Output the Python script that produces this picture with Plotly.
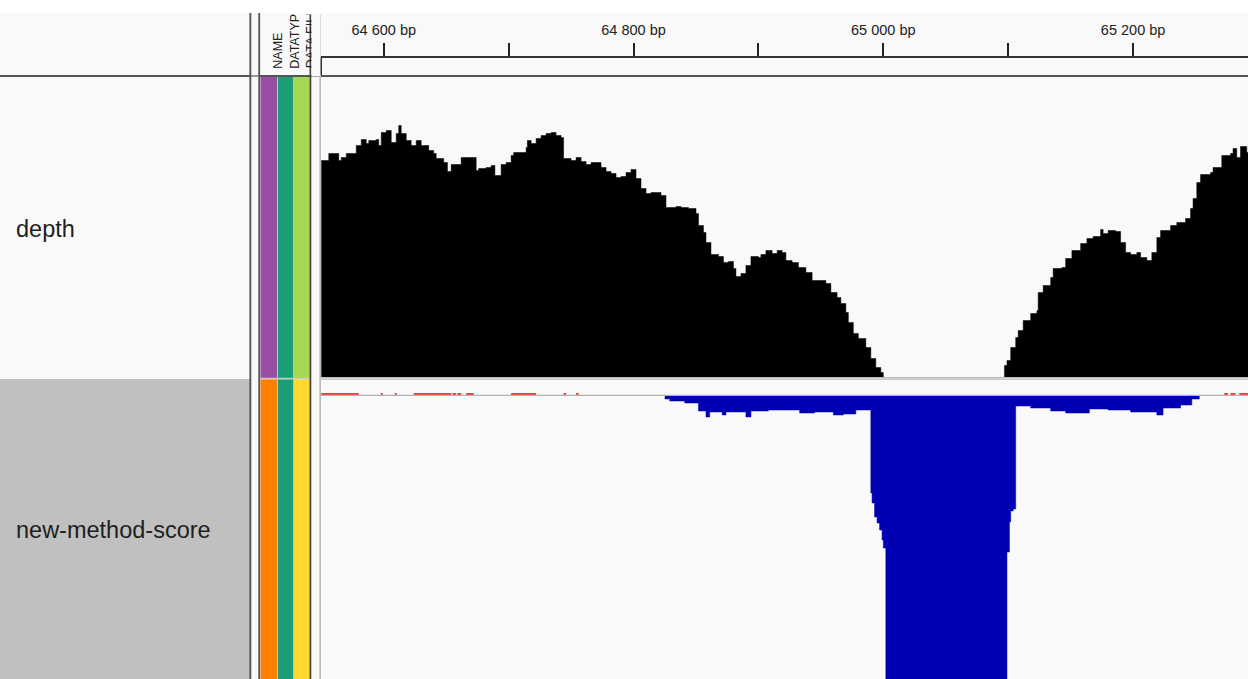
import plotly.graph_objects as go

# ---- data -------------------------------------------------------------
# read depth as a step profile: start position (bp) and depth value
depth_pos = [
    64550, 64556, 64564, 64566, 64570, 64578, 64582, 64586, 64588, 64594,
    64596, 64598, 64602, 64606, 64610, 64612, 64614, 64618, 64622, 64626,
    64630, 64636, 64640, 64642, 64648, 64651, 64654, 64662, 64674, 64676,
    64682, 64686, 64689, 64694, 64698, 64702, 64704, 64714, 64715, 64718,
    64722, 64726, 64730, 64734, 64738, 64742, 64744, 64750, 64754, 64758,
    64762, 64766, 64774, 64778, 64782, 64786, 64790, 64794, 64798, 64802,
    64806, 64810, 64814, 64822, 64826, 64834, 64838, 64844, 64850, 64852,
    64856, 64858, 64862, 64868, 64872, 64876, 64880, 64882, 64886, 64890,
    64894, 64900, 64902, 64906, 64911, 64915, 64919, 64922, 64927, 64932,
    64938, 64943, 64954, 64958, 64963, 64966, 64970, 64972, 64976, 64980,
    64986, 64990, 64994, 64998, 65000, 65097, 65099, 65102, 65106, 65108,
    65112, 65118, 65123, 65124, 65128, 65134, 65136, 65143, 65146, 65151,
    65158, 65163, 65168, 65174, 65176, 65180, 65186, 65190, 65194, 65198,
    65203, 65206, 65211, 65215, 65219, 65222, 65230, 65235, 65242, 65246,
    65248, 65251, 65254, 65262, 65264, 65271, 65278, 65280, 65283, 65286,
    65291, 65293,
]
depth_val = [
    217, 224, 217, 220, 224, 232, 238, 234, 237, 238,
    232, 245, 247, 235, 244, 252, 244, 237, 232, 237,
    232, 227, 224, 219, 215, 206, 213, 220, 207, 209,
    210, 212, 202, 213, 215, 222, 225, 230, 237, 234,
    239, 242, 244, 245, 242, 240, 219, 217, 220, 216,
    213, 215, 210, 206, 204, 200, 201, 205, 208, 199,
    189, 184, 185, 182, 170, 171, 170, 169, 164, 152,
    145, 135, 123, 121, 115, 116, 109, 101, 104, 112,
    121, 120, 123, 127, 124, 127, 125, 117, 115, 110,
    105, 97, 94, 85, 80, 74, 65, 55, 44, 39,
    30, 19, 10, 5, 0, 12, 17, 30, 40, 47,
    57, 64, 67, 85, 92, 100, 109, 110, 119, 127,
    134, 139, 141, 148, 144, 147, 146, 135, 125, 123,
    125, 120, 117, 125, 140, 147, 152, 155, 159, 169,
    179, 195, 203, 205, 210, 222, 224, 229, 220, 231,
    225, 225,
]

# new-method-score, negative stretch (step profile, start positions)
score_neg_pos = [
    64825, 64829, 64841, 64852, 64858, 64861, 64871, 64874, 64890, 64894,
    64908, 64933, 64945, 64960, 64968, 64978, 64990, 64991, 64993, 64995,
    64997, 64999, 65000, 65002, 65099, 65101, 65102, 65104, 65106, 65118,
    65134, 65146, 65165, 65180, 65198, 65219, 65224, 65238, 65247, 65253,
]
score_neg_val = [
    -0.4, -0.6, -0.8, -1.6, -2.2, -1.7, -2.0, -1.7, -2.2, -1.6,
    -1.5, -1.8, -1.7, -2.0, -1.9, -1.5, -9.8, -10.8, -12.2, -12.8,
    -13.5, -14.5, -15.3, -45.0, -15.7, -12.7, -11.6, -11.4, -1.1, -1.3,
    -1.6, -1.8, -1.4, -1.5, -1.7, -2.0, -1.3, -1.0, -0.4, 0.0,
]

# small positive score intervals (start, end, value)
score_pos_start = [64550, 64598, 64609, 64624, 64655, 64659, 64666, 64702,
                   64744, 64754, 65273, 65278, 65285]
score_pos_end = [64580, 64599, 64610, 64654, 64658, 64662, 64672, 64722,
                 64746, 64756, 65276, 65282, 65292]
score_pos_val = [0.2] * len(score_pos_start)

ruler_ticks = [64600, 64700, 64800, 64900, 65000, 65100, 65200]
ruler_labels = ["64 600 bp", "", "64 800 bp", "", "65 000 bp", "", "65 200 bp"]

track_names = ["depth", "new-method-score"]
attr_headers = ["NAME", "DATATYP", "DATA FILE"]
attr_colors = [["#984ea3", "#1b9e77", "#a6d854"],
               ["#ff7f00", "#1b9e77", "#ffd92f"]]

VIEW = [64549.6, 65292.0]

# ---- layout helpers ----------------------------------------------------
W, H = 1248, 679
FONT = "Liberation Sans, Arial, sans-serif"
BG = "#f9f9f9"


def px(x):
    return x / W


def py(y):
    return 1 - y / H


shapes = []


def rect(x0, y0, x1, y1, color, layer="below"):
    shapes.append(dict(type="rect", xref="paper", yref="paper",
                       x0=px(x0), x1=px(x1), y0=py(y1), y1=py(y0),
                       fillcolor=color, line=dict(width=0), layer=layer))


# panel backgrounds
rect(0, 13, W, H, BG)
rect(0, 379, 250, H, "#c0c0c0")

# attribute cells
cols = [(260.5, 277.3), (277.8, 293.5), (294.0, 309.5)]
rows = [(77, 378), (379.3, H)]
for r, (ry0, ry1) in enumerate(rows):
    for c, (cx0, cx1) in enumerate(cols):
        rect(cx0, ry0, cx1, ry1, attr_colors[r][c])
rect(277.3, 77, 277.8, H, "#c8c8c8")
rect(293.5, 77, 294.0, H, "#c8c8c8")
rect(260, 377.8, 310, 379.3, "#c8c8c8")

# separators
rect(0, 75, 250, 77, "#555555", "above")
rect(251, 75, 259, 77, "#999999", "above")
rect(260, 75, W, 77, "#555555", "above")
rect(249.4, 13, 251.3, H, "#555555", "above")
rect(258.3, 13, 260.1, H, "#555555", "above")
rect(309.5, 13, 311.3, H, "#444444", "above")
rect(319.5, 13, 320.8, H, "#aaaaaa", "above")
rect(320, 378.2, W, 380, "#c8c8c8", "above")
# ruler box left edge
rect(320, 57.5, 322, 75, "#333333", "above")
# score baseline
shapes.append(dict(type="line", xref="paper", yref="paper",
                   x0=px(320.8), x1=1, y0=py(395.3), y1=py(395.3),
                   line=dict(color="#b4b4b4", width=1.2), layer="above"))

# ---- figure -------------------------------------------------------------
fig = go.Figure()

fig.add_trace(go.Scatter(
    x=depth_pos, y=depth_val, mode="lines", line_shape="hv",
    fill="tozeroy", fillcolor="#000000",
    line=dict(color="#000000", width=0.5),
    xaxis="x", yaxis="y", hoverinfo="skip", showlegend=False))

fig.add_trace(go.Scatter(
    x=score_neg_pos, y=score_neg_val, mode="lines", line_shape="hv",
    fill="tozeroy", fillcolor="#0000b2",
    line=dict(color="#0000b2", width=0.5),
    xaxis="x2", yaxis="y2", hoverinfo="skip", showlegend=False))

fig.add_trace(go.Bar(
    x=[(s + e) / 2 for s, e in zip(score_pos_start, score_pos_end)],
    width=[e - s for s, e in zip(score_pos_start, score_pos_end)],
    y=score_pos_val, marker=dict(color="#f03c3c", line=dict(width=0)),
    xaxis="x2", yaxis="y2", hoverinfo="skip", showlegend=False))

# empty trace so the ruler subplot is built
fig.add_trace(go.Scatter(x=[None], y=[None], mode="markers",
                         xaxis="x3", yaxis="y3", hoverinfo="skip",
                         showlegend=False))

data_dom = [px(320.8), 1.0]
hidden = dict(visible=False, showgrid=False, zeroline=False)

annotations = []
for name, yc in zip(track_names, [229, 530]):
    annotations.append(dict(
        text=name, xref="paper", yref="paper", x=px(14), y=py(yc),
        xanchor="left", yanchor="middle", showarrow=False,
        font=dict(family=FONT, size=23.5, color="#1e1e1e")))

for txt, xc in zip(attr_headers, [278.2, 294.8, 311.2]):
    annotations.append(dict(
        text=txt, xref="paper", yref="paper", x=px(xc), y=py(70.5),
        xanchor="center", yanchor="bottom", textangle=-90, showarrow=False,
        font=dict(family=FONT, size=12.5, color="#222222")))

# masks trimming the last header to its column
annotations.append(dict(
    text=" ", xref="paper", yref="paper", x=px(311.4), y=py(13),
    xanchor="left", yanchor="top", width=8, height=62, borderpad=0,
    bgcolor=BG, showarrow=False))
annotations.append(dict(
    text=" ", xref="paper", yref="paper", x=px(296), y=py(0),
    xanchor="left", yanchor="top", width=24, height=13, borderpad=0,
    bgcolor="#ffffff", showarrow=False))

fig.update_layout(
    width=W, height=H, margin=dict(l=0, r=0, t=0, b=0),
    paper_bgcolor="#ffffff", plot_bgcolor="rgba(0,0,0,0)",
    showlegend=False, barmode="overlay",
    xaxis=dict(domain=data_dom, range=VIEW, anchor="y", **hidden),
    yaxis=dict(domain=[py(377.5), py(78)], range=[0, 299.5], anchor="x", **hidden),
    xaxis2=dict(domain=data_dom, range=VIEW, anchor="y2", matches="x", **hidden),
    yaxis2=dict(domain=[0, py(380)], range=[-28.4, 1.5], anchor="x2", **hidden),
    xaxis3=dict(domain=data_dom, range=VIEW, anchor="y3", side="top",
                showline=True, linecolor="#333333", linewidth=2,
                ticks="outside", ticklen=13, tickwidth=1.6, tickcolor="#222222",
                tickvals=ruler_ticks, ticktext=ruler_labels,
                ticklabelstandoff=2,
                tickfont=dict(family=FONT, size=14.5, color="#222222"),
                showgrid=False, zeroline=False),
    yaxis3=dict(domain=[py(75), py(58)], range=[0, 1], anchor="x3",
                **hidden),
    shapes=shapes, annotations=annotations,
)

fig.write_html("out.html")
